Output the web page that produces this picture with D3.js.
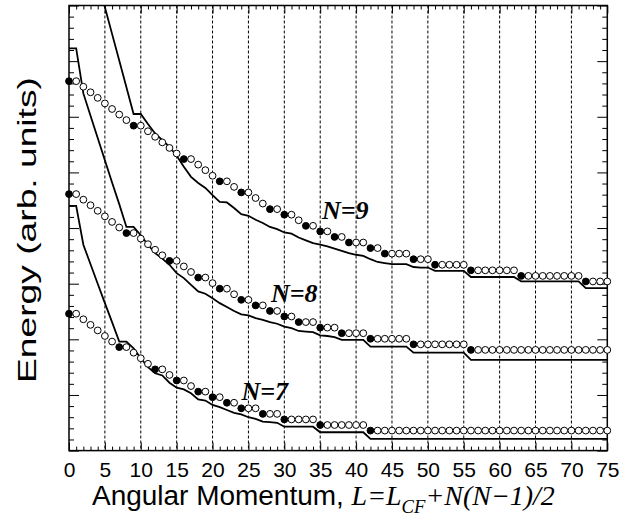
<!DOCTYPE html>
<html>
<head>
<meta charset="utf-8">
<script src="https://cdn.jsdelivr.net/npm/d3@7"></script>
<style>
  html, body { margin: 0; padding: 0; background: #fff; }
  svg { display: block; }
</style>
</head>
<body>
<div id="chart"></div>
<script>
// ---------------- data ----------------
const angMom = d3.range(0, 76); // L = 0 .. 75
const xTickLabels = ["0","5","10","15","20","25","30","35","40","45","50","55","60","65","70","75"];
const xMajorTicks = [0,5,10,15,20,25,30,35,40,45,50,55,60,65,70,75];
const gridLines = [5,10,15,20,25,30,35,40,45,50,55,60,65,70];

// CF (circle) energies, arb. units, per L
const circlesN7 = [2.46,2.46,2.36,2.26,2.16,2.06,1.96,1.86,1.86,1.76,
  1.66,1.56,1.46,1.46,1.36,1.26,1.26,1.16,1.06,1.06,
  0.96,0.96,0.86,0.86,0.76,0.76,0.76,0.66,0.66,0.66,
  0.56,0.56,0.56,0.56,0.56,0.46,0.46,0.46,0.46,0.46,
  0.46,0.46,0.36,0.36,0.36,0.36,0.36,0.36,0.36,0.36,
  0.36,0.36,0.36,0.36,0.36,0.36,0.36,0.36,0.36,0.36,
  0.36,0.36,0.36,0.36,0.36,0.36,0.36,0.36,0.36,0.36,
  0.36,0.36,0.36,0.36,0.36,0.36];
const circlesN8 = [4.61,4.61,4.51,4.41,4.31,4.21,4.11,4.01,3.91,3.91,
  3.81,3.71,3.61,3.51,3.41,3.41,3.31,3.21,3.11,3.11,
  3.01,2.91,2.91,2.81,2.71,2.71,2.61,2.61,2.51,2.51,
  2.41,2.41,2.31,2.31,2.31,2.21,2.21,2.21,2.11,2.11,
  2.11,2.11,2.01,2.01,2.01,2.01,2.01,2.01,1.91,1.91,
  1.91,1.91,1.91,1.91,1.91,1.91,1.81,1.81,1.81,1.81,
  1.81,1.81,1.81,1.81,1.81,1.81,1.81,1.81,1.81,1.81,
  1.81,1.81,1.81,1.81,1.81,1.81];
const circlesN9 = [6.64,6.64,6.54,6.44,6.34,6.24,6.14,6.04,5.94,5.84,
  5.84,5.74,5.64,5.54,5.44,5.34,5.24,5.24,5.14,5.04,
  4.94,4.84,4.84,4.74,4.64,4.64,4.54,4.44,4.34,4.34,
  4.24,4.24,4.14,4.04,4.04,3.94,3.94,3.84,3.84,3.74,
  3.74,3.74,3.64,3.64,3.54,3.54,3.54,3.54,3.44,3.44,
  3.44,3.34,3.34,3.34,3.34,3.34,3.24,3.24,3.24,3.24,
  3.24,3.24,3.24,3.14,3.14,3.14,3.14,3.14,3.14,3.14,
  3.14,3.14,3.04,3.04,3.04,3.04];

// L values drawn as filled circles
const filledN7 = [0,7,12,15,18,20,22,24,27,30,35,42];
const filledN8 = [0,8,14,18,21,24,26,28,30,32,35,38,42,48,56];
const filledN9 = [0,9,16,21,24,28,30,33,35,37,39,42,44,48,51,56,63,72];

// exact (solid line) energies per L
const lineN7 = [4.40,4.40,3.70,3.35,3.00,2.65,2.31,1.96,1.96,1.84,
  1.66,1.50,1.39,1.35,1.22,1.13,1.10,1.03,0.92,0.90,
  0.82,0.78,0.73,0.68,0.65,0.60,0.57,0.52,0.51,0.50,
  0.43,0.43,0.43,0.43,0.43,0.33,0.33,0.33,0.33,0.33,
  0.33,0.33,0.21,0.21,0.21,0.21,0.21,0.21,0.21,0.21,
  0.21,0.21,0.21,0.21,0.21,0.21,0.21,0.21,0.21,0.21,
  0.21,0.21,0.21,0.21,0.21,0.21,0.21,0.21,0.21,0.21,
  0.21,0.21,0.21,0.21,0.21,0.21];
const lineN8 = [7.23,7.23,6.42,6.02,5.62,5.22,4.82,4.43,4.02,4.02,
  3.87,3.70,3.55,3.45,3.34,3.19,3.10,2.98,2.86,2.82,
  2.74,2.65,2.58,2.51,2.45,2.43,2.38,2.35,2.31,2.28,
  2.23,2.20,2.15,2.14,2.13,2.07,2.06,2.04,1.99,1.99,
  1.99,1.99,1.87,1.87,1.87,1.87,1.87,1.87,1.76,1.76,
  1.76,1.76,1.76,1.76,1.76,1.76,1.63,1.63,1.63,1.63,
  1.63,1.63,1.63,1.63,1.63,1.63,1.63,1.63,1.63,1.63,
  1.63,1.63,1.63,1.63,1.63,1.63];
const lineN9 = [10.35,10.35,9.41,8.93,8.45,7.97,7.49,7.01,6.53,6.05,
  6.05,5.87,5.70,5.58,5.46,5.30,5.10,4.92,4.81,4.72,
  4.59,4.47,4.46,4.36,4.25,4.22,4.15,4.09,4.02,3.98,
  3.92,3.90,3.83,3.78,3.73,3.70,3.67,3.63,3.59,3.55,
  3.52,3.50,3.44,3.39,3.37,3.35,3.35,3.35,3.30,3.29,
  3.29,3.23,3.23,3.23,3.23,3.23,3.12,3.12,3.12,3.12,
  3.12,3.12,3.12,3.04,3.04,3.04,3.04,3.04,3.04,3.04,
  3.04,3.04,2.92,2.92,2.92,2.92];

const seriesLabels = ["N=7", "N=8", "N=9"];

// ---------------- layout ----------------
const W = 621, H = 516;
const m = {left: 69, top: 5.5, right: 13.7, bottom: 65.4};
const iw = W - m.left - m.right, ih = H - m.top - m.bottom;

const svg = d3.select("#chart").append("svg").attr("width", W).attr("height", H);
const g = svg.append("g").attr("transform", `translate(${m.left},${m.top})`);

const x = d3.scaleLinear().domain([0, 75]).range([0, iw]);
const y = d3.scaleLinear().domain([0, 8]).range([ih, 0]);

svg.append("defs").append("clipPath").attr("id", "plotclip")
  .append("rect").attr("x", 0).attr("y", 0).attr("width", iw).attr("height", ih);

// dashed verticals
g.append("g").selectAll("line").data(gridLines).join("line")
  .attr("x1", d => x(d)).attr("x2", d => x(d))
  .attr("y1", 0).attr("y2", ih)
  .attr("stroke", "#000").attr("stroke-width", 1)
  .attr("stroke-dasharray", "3,2");

// axes (ticks inward)
const minorX = angMom.filter(d => d % 5 !== 0);
const minorY = d3.range(0, 41).map(i => i / 5).filter(v => Math.abs(v - Math.round(v)) > 1e-6);
const majorY = [0,1,2,3,4,5,6,7,8];

function styleAxis(sel) {
  sel.select(".domain").remove();
  sel.selectAll(".tick line").attr("stroke", "#000").attr("stroke-width", 1);
}

g.append("g").attr("transform", `translate(0,${ih})`)
  .call(d3.axisBottom(x).tickValues(minorX).tickSize(-4).tickFormat(""))
  .call(styleAxis);
g.append("g").attr("transform", `translate(0,${ih})`)
  .call(d3.axisBottom(x).tickValues(xMajorTicks).tickSize(-8).tickPadding(11)
        .tickFormat((d, i) => xTickLabels[i]))
  .call(styleAxis)
  .call(s => s.selectAll("text").attr("font-family", "Liberation Sans, Arial, sans-serif")
        .attr("font-size", 21).attr("fill", "#000"));
g.append("g")
  .call(d3.axisTop(x).tickValues(minorX).tickSize(-4).tickFormat(""))
  .call(styleAxis);
g.append("g")
  .call(d3.axisTop(x).tickValues(xMajorTicks).tickSize(-8).tickFormat(""))
  .call(styleAxis);
g.append("g")
  .call(d3.axisLeft(y).tickValues(minorY).tickSize(-5).tickFormat(""))
  .call(styleAxis);
g.append("g")
  .call(d3.axisLeft(y).tickValues(majorY).tickSize(-10).tickFormat(""))
  .call(styleAxis);
g.append("g").attr("transform", `translate(${iw},0)`)
  .call(d3.axisRight(y).tickValues(minorY).tickSize(-5).tickFormat(""))
  .call(styleAxis);
g.append("g").attr("transform", `translate(${iw},0)`)
  .call(d3.axisRight(y).tickValues(majorY).tickSize(-10).tickFormat(""))
  .call(styleAxis);

// lines
const lineGen = d3.line().x((d, i) => x(angMom[i])).y(d => y(d));
const lineLayer = g.append("g").attr("clip-path", "url(#plotclip)");
[lineN7, lineN8, lineN9].forEach(arr => {
  lineLayer.append("path").datum(arr)
    .attr("d", lineGen)
    .attr("fill", "none").attr("stroke", "#000").attr("stroke-width", 1.8)
    .attr("stroke-linejoin", "miter");
});

// frame
g.append("rect").attr("x", 0).attr("y", 0).attr("width", iw).attr("height", ih)
  .attr("fill", "none").attr("stroke", "#000").attr("stroke-width", 1.5);

// circles
[[circlesN7, filledN7], [circlesN8, filledN8], [circlesN9, filledN9]].forEach(([vals, filled]) => {
  const fset = new Set(filled);
  g.append("g").selectAll("circle").data(vals).join("circle")
    .attr("cx", (d, i) => x(angMom[i]))
    .attr("cy", d => y(d))
    .attr("r", 3.4)
    .attr("fill", (d, i) => fset.has(angMom[i]) ? "#000" : "#fff")
    .attr("stroke", "#000").attr("stroke-width", 1);
});

// series labels
const labelPos = [[241.5, 400], [271, 302], [322, 219]];
seriesLabels.forEach((t, i) => {
  svg.append("text")
    .attr("x", labelPos[i][0]).attr("y", labelPos[i][1])
    .attr("font-family", "Liberation Serif, Times New Roman, serif")
    .attr("font-style", "italic").attr("font-weight", "bold")
    .attr("font-size", 26).attr("fill", "#000")
    .text(t);
});

// axis titles
const yl = svg.append("text")
  .attr("text-anchor", "middle")
  .attr("font-family", "Liberation Sans, Arial, sans-serif")
  .attr("font-size", 26).attr("fill", "#000")
  .text("Energy (arb. units)");
{
  const w = yl.node().getComputedTextLength();
  const s = 306 / w;
  yl.attr("transform", `translate(36,230) rotate(-90) scale(${s},1)`);
}

const xt = svg.append("text")
  .attr("x", 0).attr("y", 0)
  .attr("font-family", "Liberation Sans, Arial, sans-serif")
  .attr("font-size", 27).attr("fill", "#000");
xt.append("tspan").text("Angular Momentum, ");
const serif = "Liberation Serif, Times New Roman, serif";
xt.append("tspan").attr("font-family", serif).attr("font-style", "italic").text("L=L");
xt.append("tspan").attr("font-family", serif).attr("font-style", "italic")
  .attr("font-size", 18).attr("dy", 8).text("CF");
xt.append("tspan").attr("font-family", serif).attr("font-style", "italic")
  .attr("dy", -8).text("+N(N\u22121)/2");
{
  const bb = xt.node().getBBox();
  const s = 463 / bb.width;
  xt.attr("transform", `translate(92,505) scale(${s},1)`);
}
</script>
</body>
</html>
